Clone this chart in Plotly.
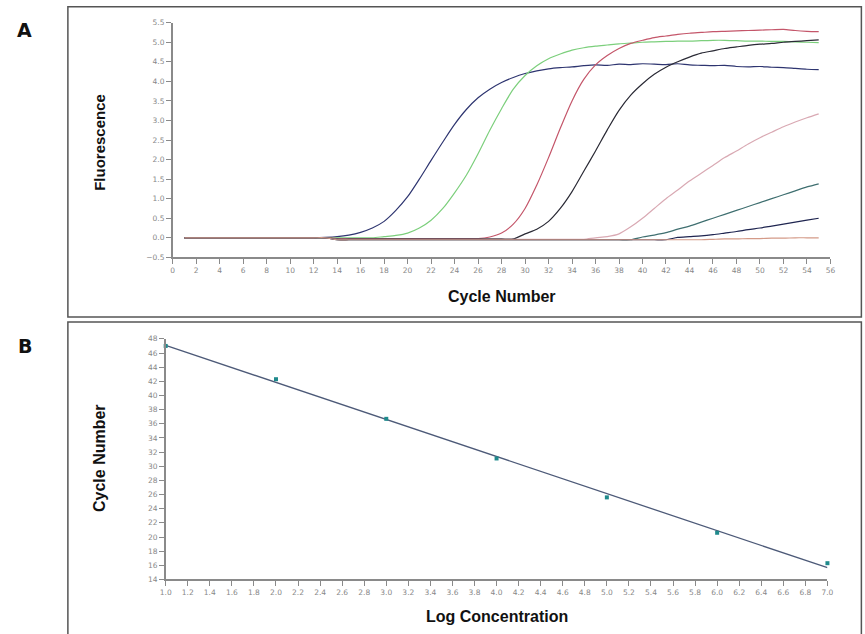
import numpy as np
import plotly.graph_objects as go

# ---------------- Data: Panel A (amplification curves) ----------------
cycles = list(range(1, 56))

curve_navy = [0.0] * 12 + [0.01, 0.03, 0.07, 0.14, 0.25, 0.42, 0.7, 1.05, 1.5, 1.98, 2.45,
                           2.9, 3.28, 3.58, 3.8, 3.97, 4.1, 4.2, 4.27, 4.32, 4.35, 4.37, 4.4,
                           4.42, 4.41, 4.44, 4.43, 4.45, 4.44, 4.43, 4.45, 4.42, 4.41, 4.40,
                           4.41, 4.38, 4.37, 4.38, 4.36, 4.35, 4.33, 4.31, 4.3]
curve_green = [0.0] * 17 + [0.03, 0.06, 0.12, 0.25, 0.45, 0.75, 1.15, 1.6, 2.15,
                            2.75, 3.3, 3.8, 4.15, 4.4, 4.58, 4.7, 4.8, 4.86, 4.9, 4.93,
                            4.96, 4.98, 5.0, 5.01, 5.02, 5.03, 5.03, 5.04, 5.05, 5.05,
                            5.04, 5.03, 5.03, 5.02, 5.02, 5.01, 5.0, 4.99]
curve_red = [0.0] * 13 + [-0.02] * 13 + [0.02, 0.12, 0.35, 0.75, 1.35, 2.05, 2.8, 3.5,
                                         4.05, 4.42, 4.66, 4.84, 4.97, 5.05, 5.12, 5.16,
                                         5.2, 5.23, 5.25, 5.27, 5.28, 5.29, 5.3, 5.31,
                                         5.32, 5.33, 5.3, 5.28, 5.27]
curve_black = [0.0] * 13 + [-0.03] * 16 + [0.1, 0.22, 0.42, 0.75, 1.18, 1.7, 2.22, 2.76,
                                           3.26, 3.65, 3.94, 4.18, 4.36, 4.5, 4.62, 4.72,
                                           4.78, 4.84, 4.88, 4.92, 4.95, 4.97, 5.0, 5.02,
                                           5.04, 5.06]
curve_pink = [0.0] * 13 + [-0.04] * 22 + [0.0, 0.03, 0.1, 0.28, 0.5, 0.75, 1.0, 1.22,
                                          1.45, 1.65, 1.85, 2.05, 2.22, 2.4, 2.56, 2.7,
                                          2.84, 2.96, 3.07, 3.17, 3.27]
curve_teal = [0.0] * 13 + [-0.05] * 26 + [0.02, 0.07, 0.13, 0.22, 0.3, 0.4, 0.5, 0.6,
                                          0.7, 0.8, 0.9, 1.0, 1.1, 1.2, 1.3, 1.38]
curve_late = [0.0] * 13 + [-0.05] * 29 + [0.01, 0.03, 0.05, 0.08, 0.12, 0.16, 0.21,
                                          0.25, 0.3, 0.35, 0.4, 0.45, 0.5]
curve_flat = [0.0] * 13 + [-0.05] * 32 + [-0.04, -0.03, -0.03, -0.02, -0.02, -0.01,
                                          -0.01, 0.0, 0.0, 0.0]

curves = [
    ("Sample 1", curve_navy, "#2e3570"),
    ("Sample 2", curve_green, "#7ccf7c"),
    ("Sample 3", curve_red, "#c4566a"),
    ("Sample 4", curve_black, "#2a2a35"),
    ("Sample 5", curve_pink, "#d9a9b3"),
    ("Sample 6", curve_teal, "#3f6f70"),
    ("Sample 7", curve_late, "#1f2550"),
    ("NTC", curve_flat, "#d49a88"),
]

a_xticks = list(range(0, 57, 2))
a_yticks = [-0.5, 0.0, 0.5, 1.0, 1.5, 2.0, 2.5, 3.0, 3.5, 4.0, 4.5, 5.0, 5.5]

# ---------------- Data: Panel B (standard curve) ----------------
log_conc = [1.0, 2.0, 3.0, 4.0, 5.0, 6.0, 7.0]
ct_values = [47.0, 42.3, 36.7, 31.1, 25.6, 20.6, 16.3]

b_xticks = [round(1.0 + 0.2 * i, 1) for i in range(31)]
b_yticks = list(range(14, 49, 2))

W, H = 865, 634

def px(x):
    return ((x - 5.0) / 0.988) / W

def py(y):
    return 1 - ((y - 3.2) / 0.9915) / H

fig = go.Figure()

for name, vals, col in curves:
    fig.add_trace(go.Scatter(x=cycles, y=vals, mode="lines", name=name,
                             line=dict(color=col, width=1.2, shape="spline", smoothing=0.8),
                             xaxis="x", yaxis="y", showlegend=False))

slope, intercept = np.polyfit(log_conc, ct_values, 1)
fit_x = [log_conc[0], log_conc[-1]]
fit_y = [slope * v + intercept for v in fit_x]
fig.add_trace(go.Scatter(x=fit_x, y=fit_y, mode="lines", line=dict(color="#4d5a78", width=1.3),
                         xaxis="x2", yaxis="y2", showlegend=False))
fig.add_trace(go.Scatter(x=log_conc, y=ct_values, mode="markers",
                         marker=dict(symbol="square", size=4, color="#1f8a8c"),
                         xaxis="x2", yaxis="y2", showlegend=False, cliponaxis=False))

tickfont = dict(family="DejaVu Sans, Liberation Sans", size=7.5, color="#888888")
axis_common = dict(showgrid=False, zeroline=False, showline=True, linecolor="#8a8a8a",
                   linewidth=1.5, ticks="outside", ticklen=5, tickcolor="#8a8a8a",
                   tickfont=tickfont)

fig.update_layout(
    width=W, height=H,
    margin=dict(l=0, r=0, t=0, b=0),
    paper_bgcolor="white", plot_bgcolor="white",
    xaxis=dict(domain=[px(172), px(831)], range=[0, 56], tickvals=a_xticks,
               anchor="y", **axis_common),
    yaxis=dict(domain=[py(258), py(22)], range=[-0.5, 5.5], tickvals=a_yticks,
               tickformat=".1f", anchor="x", **axis_common),
    xaxis2=dict(domain=[px(165), px(828)], range=[1.0, 7.0], tickvals=b_xticks,
                tickformat=".1f", anchor="y2", **axis_common),
    yaxis2=dict(domain=[py(582), py(340)], range=[14, 48], tickvals=b_yticks,
                anchor="x2", **axis_common),
)

border = dict(color="#555555", width=1.5)
fig.add_shape(type="rect", xref="paper", yref="paper", x0=px(67), x1=px(862),
              y0=py(318), y1=py(6), line=border)
fig.add_shape(type="rect", xref="paper", yref="paper", x0=px(67), x1=px(862),
              y0=py(645), y1=py(323), line=border)

big = dict(family="Liberation Sans, Arial", size=16, color="#111111")
mid = dict(family="Liberation Sans, Arial", size=15, color="#111111")
letter = dict(family="DejaVu Sans, Liberation Sans", size=19, color="#111111")
ann = [
    dict(text="<b>A</b>", x=px(24), y=py(29), font=letter),
    dict(text="<b>B</b>", x=px(24), y=py(347), font=letter),
    dict(text="<b>Cycle Number</b>", x=px(502), y=py(297), font=big),
    dict(text="<b>Fluorescence</b>", x=px(98), y=py(142), font=mid, textangle=-90),
    dict(text="<b>Log Concentration</b>", x=px(497), y=py(619), font=big),
    dict(text="<b>Cycle Number</b>", x=px(98), y=py(460), font=big, textangle=-90),
]
for a in ann:
    fig.add_annotation(xref="paper", yref="paper", showarrow=False,
                       xanchor="center", yanchor="middle", **a)

fig.write_html(
    "out.html",
    config={"displayModeBar": False},
    post_script="document.body.style.margin='0';document.body.style.padding='0';"
                "document.body.style.overflow='hidden';",
)
